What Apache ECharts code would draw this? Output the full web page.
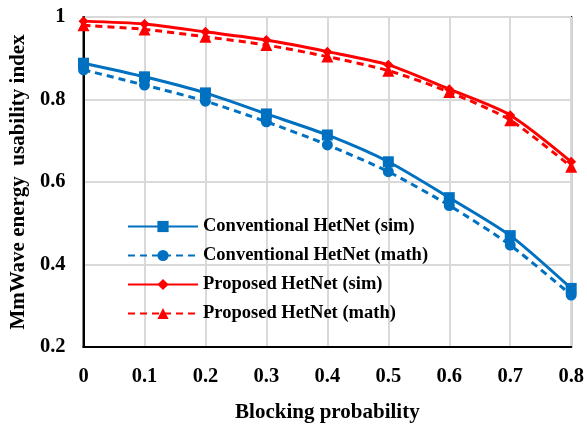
<!DOCTYPE html>
<html>
<head>
<meta charset="utf-8">
<script src="https://cdn.jsdelivr.net/npm/echarts@6/dist/echarts.min.js"></script>
<style>
  html, body { margin: 0; padding: 0; background: #fff; }
  #chart { width: 587px; height: 429px; }
</style>
</head>
<body>
<div id="chart"></div>
<script>
// Blocking probability values on the x axis
const blockingProb = [0, 0.1, 0.2, 0.3, 0.4, 0.5, 0.6, 0.7, 0.8];

// MmWave energy usability index for each scheme
const conventionalSim  = [0.888, 0.855, 0.816, 0.765, 0.714, 0.649, 0.562, 0.470, 0.342];
const conventionalMath = [0.872, 0.835, 0.796, 0.746, 0.690, 0.625, 0.543, 0.447, 0.326];
const proposedSim      = [0.990, 0.983, 0.964, 0.944, 0.916, 0.884, 0.825, 0.762, 0.649];
const proposedMath     = [0.980, 0.970, 0.952, 0.932, 0.904, 0.870, 0.818, 0.750, 0.637];

const seriesNames = [
  'Conventional HetNet (sim)',
  'Conventional HetNet (math)',
  'Proposed HetNet (sim)',
  'Proposed HetNet (math)'
];

const BLUE = '#0070C0';
const RED = '#FF0000';
const FONT = '"Liberation Serif", "Times New Roman", serif';

function pairs(ys) {
  return blockingProb.map((x, i) => [x, ys[i]]);
}

function makeSeries(name, ys, color, dashed, symbol, size) {
  return {
    name: name,
    type: 'line',
    data: pairs(ys),
    symbol: symbol,
    symbolSize: size,
    smooth: 0.25,
    lineStyle: { color: color, width: 3, type: dashed ? [7, 5] : 'solid' },
    itemStyle: { color: color },
    emphasis: { disabled: true },
    z: dashed ? 3 : 2
  };
}

const chart = echarts.init(document.getElementById('chart'), null, { renderer: 'canvas' });

chart.setOption({
  animation: false,
  backgroundColor: '#fff',
  grid: {
    left: 82, right: 15, top: 17, bottom: 82,
    show: true, borderColor: '#000', borderWidth: 2
  },
  legend: {
    orient: 'vertical',
    left: 122,
    top: 212,
    itemWidth: 70,
    itemHeight: 14,
    itemGap: 10,
    data: seriesNames,
    textStyle: {
      fontFamily: FONT, fontWeight: 'bold', fontSize: 18.5,
      lineHeight: 18, color: '#000'
    }
  },
  xAxis: {
    type: 'value',
    min: 0, max: 0.8, interval: 0.1,
    name: 'Blocking probability',
    nameLocation: 'middle',
    nameGap: 55,
    nameTextStyle: { fontFamily: FONT, fontWeight: 'bold', fontSize: 21, color: '#000' },
    axisLine: { show: true, lineStyle: { color: '#000', width: 2 } },
    axisTick: { show: false },
    axisLabel: {
      margin: 19,
      fontFamily: FONT, fontWeight: 'bold', fontSize: 20.5, color: '#000',
      formatter: v => (Math.round(v * 10) / 10).toString()
    },
    splitLine: { show: true, lineStyle: { color: '#d9d9d9', width: 2 } }
  },
  yAxis: {
    type: 'value',
    min: 0.2, max: 1, interval: 0.2,
    name: 'MmWave energy  usability index',
    nameLocation: 'middle',
    nameGap: 53,
    nameTextStyle: { fontFamily: FONT, fontWeight: 'bold', fontSize: 21, color: '#000' },
    axisLine: { show: true, lineStyle: { color: '#000', width: 2 } },
    axisTick: { show: false },
    axisLabel: {
      margin: 18,
      fontFamily: FONT, fontWeight: 'bold', fontSize: 20.5, color: '#000',
      formatter: v => (Math.round(v * 10) / 10).toString()
    },
    splitLine: { show: true, lineStyle: { color: '#d9d9d9', width: 2 } }
  },
  series: [
    makeSeries(seriesNames[0], conventionalSim, BLUE, false, 'rect', 11),
    makeSeries(seriesNames[1], conventionalMath, BLUE, true, 'circle', 11),
    makeSeries(seriesNames[2], proposedSim, RED, false, 'diamond', 10),
    makeSeries(seriesNames[3], proposedMath, RED, true, 'triangle', 12)
  ]
});
</script>
</body>
</html>
